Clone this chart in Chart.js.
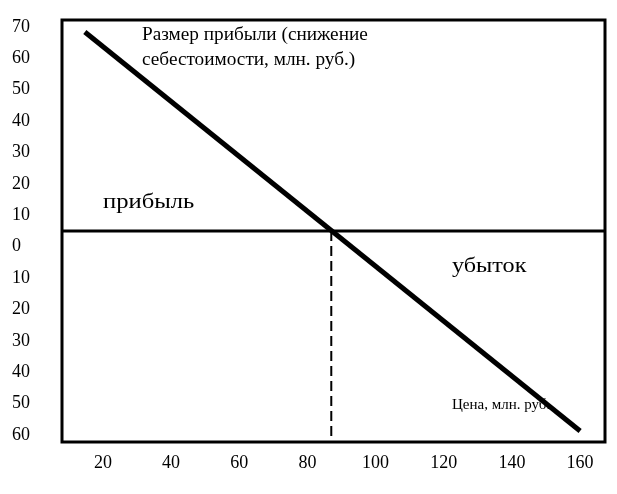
<!DOCTYPE html>
<html>
<head>
<meta charset="utf-8">
<script src="https://cdn.jsdelivr.net/npm/chart.js@4/dist/chart.umd.min.js"></script>
<style>
  html, body { margin: 0; padding: 0; background: #fff; }
  #wrap { width: 617px; height: 494px; }
</style>
</head>
<body>
<div id="wrap"><canvas id="chart"></canvas></div>
<script>
// values (y labels printed without minus sign)
var xTicks = [20, 40, 60, 80, 100, 120, 140, 160];
var yTicks = [70, 60, 50, 40, 30, 20, 10, 0, -10, -20, -30, -40, -50, -60];
var priceLine = [{x: 14.7, y: 68.4}, {x: 160, y: -58.7}];
var zeroLine = [{x: 8, y: 5}, {x: 167.3, y: 5}];
var breakEven = [{x: 87, y: 5}, {x: 87, y: -62.2}];

// captions (scan text is a bit wider than the font, hence the stretch)
var labels = [
    {text: 'Размер прибыли (снижение', x: 142, y: 35, size: 18, stretch: 1.07},
    {text: 'себестоимости, млн. руб.)', x: 142, y: 60, size: 18, stretch: 1.07},
    {text: 'прибыль', x: 103, y: 202, size: 22, stretch: 1.12},
    {text: 'убыток', x: 452, y: 266, size: 22, stretch: 1.1},
    {text: 'Цена, млн. руб.', x: 452, y: 405, size: 15, stretch: 1}
];

var FONT = '"Liberation Serif", "DejaVu Serif", serif';

// frame around plot area + captions
var framePlugin = {
    id: 'frame',
    afterDatasetsDraw: function(chart) {
        var ctx = chart.ctx, a = chart.chartArea;
        ctx.save();
        ctx.strokeStyle = '#000';
        ctx.lineWidth = 3;
        ctx.strokeRect(a.left, a.top, a.right - a.left, a.bottom - a.top);
        ctx.fillStyle = '#000';
        ctx.textBaseline = 'middle';
        ctx.textAlign = 'left';
        labels.forEach(function(l) {
            ctx.save();
            ctx.font = l.size + 'px ' + FONT;
            ctx.translate(l.x, l.y);
            ctx.scale(l.stretch, 1);
            ctx.fillText(l.text, 0, 0);
            ctx.restore();
        });
        ctx.restore();
    }
};

var ctx = document.getElementById('chart');
var chart = new Chart(ctx, {
    type: 'scatter',
    data: {
        datasets: [
            {data: priceLine, showLine: true, borderColor: '#000', borderWidth: 5, pointRadius: 0, borderCapStyle: 'butt'},
            {data: zeroLine, showLine: true, borderColor: '#000', borderWidth: 3, pointRadius: 0},
            {data: breakEven, showLine: true, borderColor: '#000', borderWidth: 2, borderDash: [10, 5], pointRadius: 0}
        ]
    },
    options: {
        responsive: true,
        maintainAspectRatio: false,
        animation: false,
        layout: {padding: {top: 20, left: 12, right: 12, bottom: 0}},
        plugins: {legend: {display: false}, tooltip: {enabled: false}},
        scales: {
            x: {
                type: 'linear',
                min: 8,
                max: 167.3,
                grid: {display: false, drawTicks: false},
                border: {display: false},
                afterBuildTicks: function(axis) {
                    axis.ticks = xTicks.map(function(v) { return {value: v}; });
                },
                afterFit: function(axis) { axis.height = 52; },
                ticks: {
                    color: '#000',
                    padding: 10,
                    maxRotation: 0,
                    autoSkip: false,
                    font: {family: FONT, size: 18}
                }
            },
            y: {
                type: 'linear',
                min: -62.2,
                max: 72.2,
                grid: {display: false, drawTicks: false},
                border: {display: false},
                afterBuildTicks: function(axis) {
                    axis.ticks = yTicks.map(function(v) { return {value: v}; });
                },
                afterFit: function(axis) { axis.width = 50; },
                ticks: {
                    color: '#000',
                    crossAlign: 'far',
                    autoSkip: false,
                    font: {family: FONT, size: 18},
                    callback: function(v) { return Math.abs(v); }
                }
            }
        }
    },
    plugins: [framePlugin]
});
</script>
</body>
</html>
